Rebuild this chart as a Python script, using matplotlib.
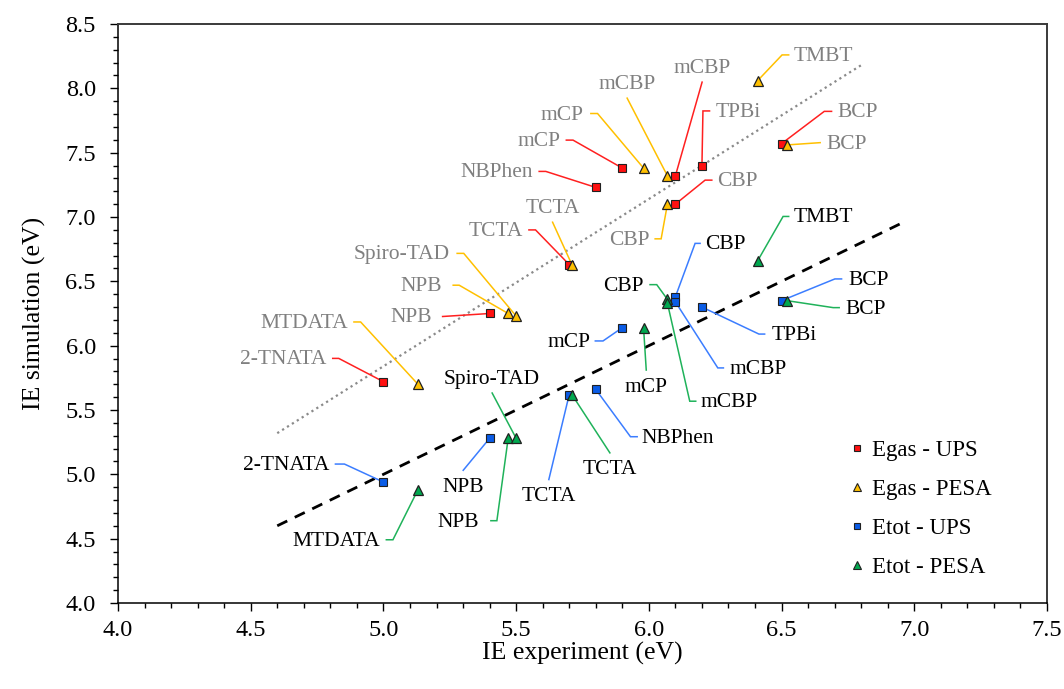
import matplotlib
matplotlib.use("Agg")
import matplotlib.pyplot as plt
from matplotlib.ticker import MultipleLocator
from matplotlib.lines import Line2D
import numpy as np

plt.rcParams["font.family"] = ["Liberation Serif", "DejaVu Serif"]

# ---------------- data ----------------
egas_ups_names = ["2-TNATA", "NPB", "TCTA", "NBPhen", "mCP", "mCBP", "TPBi", "CBP", "BCP"]
egas_ups_x = [5.00, 5.40, 5.70, 5.80, 5.90, 6.10, 6.20, 6.10, 6.50]
egas_ups_y = [5.72, 6.25, 6.63, 7.23, 7.38, 7.32, 7.40, 7.10, 7.57]

egas_pesa_names = ["MTDATA", "NPB", "Spiro-TAD", "TCTA", "mCP", "mCBP", "CBP", "TMBT", "BCP"]
egas_pesa_x = [5.13, 5.47, 5.50, 5.71, 5.98, 6.07, 6.07, 6.41, 6.52]
egas_pesa_y = [5.70, 6.25, 6.23, 6.63, 7.38, 7.32, 7.10, 8.06, 7.56]

etot_ups_names = ["2-TNATA", "NPB", "TCTA", "NBPhen", "mCP", "CBP", "mCBP", "TPBi", "BCP"]
etot_ups_x = [5.00, 5.40, 5.70, 5.80, 5.90, 6.10, 6.10, 6.20, 6.50]
etot_ups_y = [4.94, 5.28, 5.62, 5.66, 6.14, 6.38, 6.34, 6.30, 6.35]

etot_pesa_names = ["MTDATA", "NPB", "Spiro-TAD", "TCTA", "mCP", "CBP", "mCBP", "TMBT", "BCP"]
etot_pesa_x = [5.13, 5.47, 5.50, 5.71, 5.98, 6.07, 6.07, 6.41, 6.52]
etot_pesa_y = [4.88, 5.28, 5.28, 5.62, 6.14, 6.36, 6.33, 6.66, 6.35]

series_labels = ["Egas - UPS", "Egas - PESA", "Etot - UPS", "Etot - PESA"]

# trend line through the gas-phase values and the y = x reference
fit_slope, fit_intercept = 1.30, -0.66
fit_x = [4.6, 6.8]
ident_x = [4.6, 6.95]

# ---------------- label layout ----------------
# (dx, dy, stub, side, gap) in pixels: elbow offset from the marker,
# horizontal stub length and where the text sits relative to the leader end
egas_ups_layout = [
    (-44.7, 23.3, -6, "l", 6), (-47, -3, 0, "l", 11), (-33.7, 34.7, -6.6, "l", 6),
    (-50, 16, -6.6, "l", 6), (-49.3, 28, -6.7, "l", 6), (26.7, 93.7, 0, "t", 14),
    (1, 54.6, 6.6, "r", 6), (29.7, 24, 6.7, "r", 5.6), (42.7, 32.3, 7.3, "r", 6),
]
egas_pesa_layout = [
    (-57.3, 62.3, -6.7, "l", 5.6), (-49, 28.3, -6, "l", 11), (-52.4, 62.7, -6.6, "l", 7),
    (-19.3, 42.4, 0, "t", 13.5), (-46, 54.6, -6.7, "l", 7), (-40.3, 77.7, 0, "t", 14),
    (-6.3, -34.7, -6, "l", 5.7), (24.4, 25.7, 6.6, "r", 4.5), (33.3, 2.3, 0, "r", 6),
]
etot_ups_layout = [
    (-39, 18, -9, "l", 5.7), (-26.4, -32, 0, "b", 17.5), (-20.4, -85, 0, "b", 16.7),
    (34.7, -47.3, 6.7, "r", 4), (-19.3, -13.3, -7.7, "l", 5), (19.7, 53.4, 5, "r", 5),
    (42.4, -66, 5.6, "r", 6), (57, -27, 5.7, "r", 6.7), (53.3, 21.7, 6.7, "r", 6.7),
]
etot_pesa_layout = [
    (-25, -50, -6.6, "l", 6.4), (-11.3, -82.4, -6, "l", 12), (-24, 45.3, 0, "t", 14),
    (38, -58.3, 0, "b", 16.7), (2.7, -42.4, 0, "b", 17.6), (-10.7, 14.7, -6.7, "l", 6.6),
    (22.3, -98, 6, "r", 5), (25.4, 44.3, 5.6, "r", 5), (46.3, -7, 6, "r", 6),
]

RED, ORANGE, BLUE, GREEN = "#ff1010", "#ffc000", "#0a5ce6", "#00a84f"
LINE_RED, LINE_ORANGE, LINE_BLUE, LINE_GREEN = "#ff2020", "#ffc000", "#3b7dff", "#1fb25a"
GRAY_TEXT = "#808080"

fig = plt.figure(figsize=(10.64, 6.89), dpi=100)
ax = fig.add_axes([118 / 1064, 86 / 689, 929 / 1064, 579 / 689])
ax.set_xlim(4.0, 7.5)
ax.set_ylim(4.0, 8.5)

# reference lines
fx = np.array(fit_x)
ax.plot(fx, fit_slope * fx + fit_intercept, color="#8a8a8a", lw=1.6,
        linestyle=(0, (1, 1.6)), zorder=1)
ix = np.array(ident_x)
ax.plot(ix, ix, color="black", lw=2.0, linestyle=(0, (4, 3)), zorder=1)

inv = ax.transData.inverted()


def annotate_series(xs, ys, names, layout, line_color, text_color):
    for x, y, name, (dx, dy, stub, side, gap) in zip(xs, ys, names, layout):
        px, py = ax.transData.transform((x, y))
        ex, ey = px + dx, py + dy
        sx = ex + stub
        pts = inv.transform([(px, py), (ex, ey), (sx, ey)])
        ax.plot(pts[:, 0], pts[:, 1], color=line_color, lw=1.1, zorder=2,
                solid_joinstyle="miter")
        if side == "l":
            tx, ty, ha = sx - gap, ey - 1.5, "right"
        elif side == "r":
            tx, ty, ha = sx + gap, ey - 1.5, "left"
        elif side == "t":
            tx, ty, ha = ex, ey + gap, "center"
        else:
            tx, ty, ha = ex, ey - gap, "center"
        tdx, tdy = inv.transform((tx, ty))
        ax.text(tdx, tdy, name, ha=ha, va="center", fontsize=15.5,
                color=text_color, zorder=3)


annotate_series(egas_ups_x, egas_ups_y, egas_ups_names, egas_ups_layout, LINE_RED, GRAY_TEXT)
annotate_series(egas_pesa_x, egas_pesa_y, egas_pesa_names, egas_pesa_layout, LINE_ORANGE, GRAY_TEXT)
annotate_series(etot_ups_x, etot_ups_y, etot_ups_names, etot_ups_layout, LINE_BLUE, "black")
annotate_series(etot_pesa_x, etot_pesa_y, etot_pesa_names, etot_pesa_layout, LINE_GREEN, "black")

edge = "#202020"
ax.plot(egas_ups_x, egas_ups_y, "s", ms=5.6, mfc=RED, mec=edge, mew=0.8, zorder=4)
ax.plot(egas_pesa_x, egas_pesa_y, "^", ms=7.2, mfc=ORANGE, mec=edge, mew=0.9, zorder=4)
ax.plot(etot_ups_x, etot_ups_y, "s", ms=5.6, mfc=BLUE, mec=edge, mew=0.8, zorder=4)
ax.plot(etot_pesa_x, etot_pesa_y, "^", ms=7.2, mfc=GREEN, mec=edge, mew=0.9, zorder=4)

handles = [
    Line2D([], [], marker="s", ls="none", ms=5, mfc=RED, mec=edge, mew=0.8),
    Line2D([], [], marker="^", ls="none", ms=6, mfc=ORANGE, mec=edge, mew=0.8),
    Line2D([], [], marker="s", ls="none", ms=5, mfc=BLUE, mec=edge, mew=0.8),
    Line2D([], [], marker="^", ls="none", ms=6, mfc=GREEN, mec=edge, mew=0.8),
]
ax.legend(handles, series_labels, loc="upper left", bbox_to_anchor=(0.788, 0.282),
          frameon=False, fontsize=16.5, handlelength=0.6, handletextpad=0.35,
          labelspacing=0.79, borderpad=0, borderaxespad=0)

# axes styling
ax.xaxis.set_major_locator(MultipleLocator(0.5))
ax.xaxis.set_minor_locator(MultipleLocator(0.1))
ax.yaxis.set_major_locator(MultipleLocator(0.5))
ax.yaxis.set_minor_locator(MultipleLocator(0.1))
ax.xaxis.set_major_formatter(plt.FormatStrFormatter("%.1f"))
ax.yaxis.set_major_formatter(plt.FormatStrFormatter("%.1f"))
ax.tick_params(which="both", direction="out", top=False, right=False,
               width=1.0, color="black")
ax.tick_params(which="major", length=6, labelsize=17.5)
ax.tick_params(which="minor", length=3.5)
ax.tick_params(axis="y", which="major", pad=10)
ax.tick_params(axis="x", which="major", pad=6)
for side in ["left", "bottom"]:
    ax.spines[side].set_linewidth(1.1)
    ax.spines[side].set_color("black")
for side in ["top", "right"]:
    ax.spines[side].set_linewidth(1.4)
    ax.spines[side].set_color("#3a3a3a")

ax.set_xlabel("IE experiment (eV)", fontsize=18.5, labelpad=1)
ax.set_ylabel("IE simulation (eV)", fontsize=18.5, labelpad=14)

fig.savefig("out.png", dpi=100)
